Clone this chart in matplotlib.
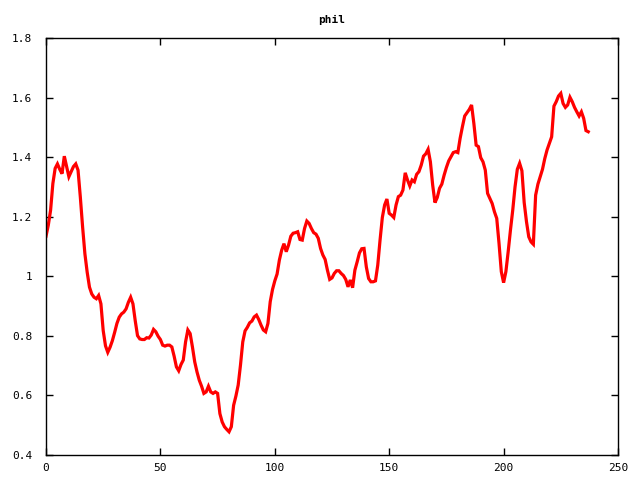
import matplotlib
matplotlib.use("Agg")
import matplotlib.pyplot as plt
import numpy as np

title = "phil"
values = [
    1.135, 1.172, 1.222, 1.312, 1.363, 1.378, 1.360, 1.345, 1.404, 1.369,
    1.335, 1.352, 1.369, 1.378, 1.357, 1.267, 1.166, 1.076, 1.014, 0.964,
    0.941, 0.930, 0.925, 0.936, 0.908, 0.818, 0.767, 0.745, 0.762, 0.784,
    0.812, 0.842, 0.863, 0.874, 0.880, 0.891, 0.913, 0.930, 0.908, 0.851,
    0.801, 0.790, 0.788, 0.788, 0.794, 0.793, 0.803, 0.822, 0.814, 0.799,
    0.788, 0.769, 0.766, 0.769, 0.769, 0.763, 0.732, 0.696, 0.683, 0.704,
    0.719, 0.780, 0.820, 0.808, 0.763, 0.713, 0.679, 0.651, 0.631, 0.607,
    0.612, 0.631, 0.612, 0.607, 0.612, 0.607, 0.539, 0.511, 0.495, 0.486,
    0.478, 0.495, 0.567, 0.598, 0.635, 0.702, 0.780, 0.817, 0.829, 0.844,
    0.850, 0.864, 0.870, 0.855, 0.836, 0.820, 0.814, 0.842, 0.915, 0.956,
    0.985, 1.008, 1.055, 1.088, 1.110, 1.083, 1.105, 1.135, 1.145, 1.147,
    1.150, 1.124, 1.122, 1.161, 1.186, 1.178, 1.161, 1.147, 1.142, 1.128,
    1.094, 1.072, 1.057, 1.021, 0.990, 0.995, 1.010, 1.019, 1.019, 1.010,
    1.003, 0.990, 0.965, 0.988, 0.962, 1.021, 1.049, 1.079, 1.093, 1.094,
    1.032, 0.993, 0.982, 0.982, 0.985, 1.038, 1.122, 1.198, 1.240, 1.260,
    1.212, 1.206, 1.198, 1.240, 1.268, 1.273, 1.290, 1.348, 1.324, 1.304,
    1.324, 1.318, 1.343, 1.352, 1.374, 1.404, 1.412, 1.427, 1.385, 1.307,
    1.248, 1.265, 1.296, 1.310, 1.340, 1.366, 1.388, 1.402, 1.416, 1.419,
    1.416, 1.464, 1.503, 1.539, 1.550, 1.561, 1.576, 1.514, 1.441, 1.436,
    1.399, 1.385, 1.357, 1.279, 1.262, 1.245, 1.217, 1.195, 1.111, 1.016,
    0.979, 1.016, 1.083, 1.156, 1.223, 1.301, 1.360, 1.380, 1.355, 1.248,
    1.184, 1.133, 1.116, 1.108, 1.273, 1.310, 1.335, 1.360, 1.396, 1.425,
    1.447, 1.469, 1.572, 1.587, 1.606, 1.615, 1.581, 1.568, 1.576, 1.602,
    1.587, 1.568, 1.553, 1.539, 1.553, 1.531, 1.490, 1.486,
]
x = np.arange(len(values))

xticks = [0, 50, 100, 150, 200, 250]
yticks = [0.4, 0.6, 0.8, 1.0, 1.2, 1.4, 1.6, 1.8]
ytick_labels = ["0.4", "0.6", "0.8", "1", "1.2", "1.4", "1.6", "1.8"]

plt.rcParams['font.family'] = ['DejaVu Sans Mono']
fig = plt.figure(figsize=(6.4, 4.8), dpi=100)
ax = fig.add_axes([46/640, 25/480, 572/640, 416.7/480])
ax.plot(x, values, color='#ff0000', linewidth=2.3, solid_joinstyle='miter')
ax.set_xlim(0, 250)
ax.set_ylim(0.4, 1.8)
ax.set_xticks(xticks)
ax.set_xticklabels([str(t) for t in xticks])
ax.set_yticks(yticks)
ax.set_yticklabels(ytick_labels)
ax.tick_params(direction='in', length=5, width=1, top=True, right=True,
               labelsize=8, colors='black')
ax.tick_params(axis='y', pad=10)
ax.tick_params(axis='x', pad=6)
for s in ax.spines.values():
    s.set_linewidth(1)
    s.set_color('black')
fig.text(0.5 + 0.5*46/640 - 0.5*(640-618)/640, 1 - 20/480, title,
         ha='center', va='center', fontsize=8, fontweight='bold')
fig.savefig("out.png", dpi=100)
